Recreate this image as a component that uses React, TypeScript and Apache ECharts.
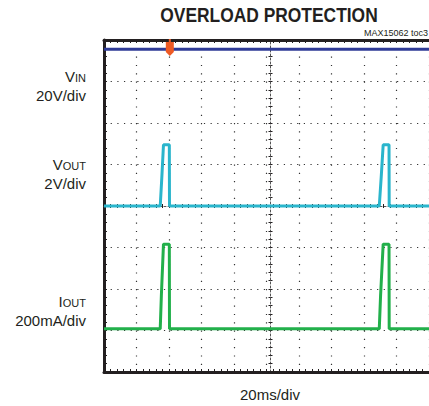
import React, { useEffect, useRef } from "react";
import * as echarts from "echarts";

// ---- data (time in ms, 20 ms/div, 10 div) ----
const TIME_MAX_MS = 200;
const TIME_DIV_MS = 20;
const Y_DIVS = 8;

const VIN_T = [0, 200];
const VIN_V = [23.6, 23.6];
const VIN_SCALE = 20; // V/div
const VIN_OFFSET = 6.6; // div

const VOUT_T = [0, 34.6, 35.6, 36.6, 40.2, 40.3, 169.4, 170.6, 171.8, 175.4, 175.5, 200];
const VOUT_V = [0, 0, 1.4, 2.95, 2.95, 0, 0, 1.4, 2.95, 2.95, 0, 0];
const VOUT_SCALE = 2; // V/div
const VOUT_OFFSET = 4; // div

const IOUT_T = [0, 34.6, 35.3, 36.6, 40.2, 40.3, 169.4, 170.2, 171.8, 175.4, 175.5, 200];
const IOUT_MA = [0, 0, 160, 408, 408, 0, 0, 160, 408, 408, 0, 0];
const IOUT_SCALE = 200; // mA/div
const IOUT_OFFSET = 1.04; // div

const TRIGGER_MS = 40.5;
const TRIGGER_DIV = 7.82;

const TITLE = "OVERLOAD PROTECTION";
const TAG = "MAX15062 toc3";
const X_LABEL = "20ms/div";

const INK = "#231F20";
const C_VIN = "#2E3A96";
const C_VOUT = "#2AB5CC";
const C_IOUT = "#22B04B";
const C_TRIG = "#EE5A24";

const FONT = '"Liberation Sans", Arial, Helvetica, sans-serif';

const toDiv = (ts: number[], vs: number[], scale: number, off: number) =>
  ts.map((t, i) => [t, off + vs[i] / scale]);

export default function App() {
  const ref = useRef<HTMLDivElement>(null);

  useEffect(() => {
    if (!ref.current) return;
    const chart = echarts.init(ref.current, undefined, { renderer: "svg" });

    const baseX = {
      type: "value",
      min: 0,
      max: TIME_MAX_MS,
      interval: TIME_DIV_MS,
      axisLabel: { show: false },
    };
    const baseY = {
      type: "value",
      min: 0,
      max: Y_DIVS,
      interval: 1,
      axisLabel: { show: false },
    };
    const borderLine = { show: true, onZero: false, lineStyle: { color: INK, width: 3 } };
    const centerLine = { show: true, onZero: false, lineStyle: { color: "#555", width: 1, type: [2, 2] } };
    const tick = (inside: boolean, len: number) => ({
      show: true,
      inside,
      length: len,
      lineStyle: { color: INK, width: 1 },
    });
    const minor = (len: number) => ({
      show: true,
      splitNumber: 5,
      length: len,
      lineStyle: { color: INK, width: 1 },
    });

    const option: any = {
      animation: false,
      backgroundColor: "#fff",
      grid: { left: 104, top: 40, width: 333, height: 332 },
      xAxis: [
        {
          ...baseX,
          position: "bottom",
          axisLine: borderLine,
          axisTick: tick(true, 3),
          minorTick: minor(3),
          splitLine: { show: true, lineStyle: { color: "#333", width: 1.2, type: [1.2, 7.1] } },
        },
        {
          ...baseX,
          position: "top",
          axisLine: borderLine,
          axisTick: tick(true, 3),
          minorTick: minor(3),
          splitLine: { show: false },
        },
        {
          ...baseX,
          position: "bottom",
          offset: -166,
          axisLine: centerLine,
          axisTick: tick(true, 2),
          minorTick: minor(2),
          splitLine: { show: false },
        },
        {
          ...baseX,
          position: "bottom",
          offset: -166,
          axisLine: { show: false },
          axisTick: tick(false, 2),
          minorTick: minor(2),
          splitLine: { show: false },
        },
      ],
      yAxis: [
        {
          ...baseY,
          position: "left",
          axisLine: borderLine,
          axisTick: tick(true, 3),
          minorTick: minor(3),
          splitLine: { show: true, lineStyle: { color: "#333", width: 1.2, type: [1.2, 5.46] } },
        },
        {
          ...baseY,
          position: "left",
          offset: -166.5,
          axisLine: centerLine,
          axisTick: tick(true, 2),
          minorTick: minor(2),
          splitLine: { show: false },
        },
        {
          ...baseY,
          position: "left",
          offset: -166.5,
          axisLine: { show: false },
          axisTick: tick(false, 2),
          minorTick: minor(2),
          splitLine: { show: false },
        },
      ],
      series: [
        {
          name: "VIN",
          type: "line",
          xAxisIndex: 0,
          yAxisIndex: 0,
          data: toDiv(VIN_T, VIN_V, VIN_SCALE, VIN_OFFSET),
          showSymbol: false,
          lineStyle: { color: C_VIN, width: 3 },
          z: 3,
          markPoint: {
            silent: true,
            label: { show: false },
            data: [
              {
                coord: [TRIGGER_MS, TRIGGER_DIV],
                symbol: "path://M3,0 H5 V3 H8 V13 L4,17 L0,13 V3 H3 Z",
                symbolSize: [8, 17],
                symbolKeepAspect: false,
                itemStyle: { color: C_TRIG },
              },
            ],
          },
        },
        {
          name: "VOUT",
          type: "line",
          xAxisIndex: 0,
          yAxisIndex: 0,
          data: toDiv(VOUT_T, VOUT_V, VOUT_SCALE, VOUT_OFFSET),
          showSymbol: false,
          lineStyle: { color: C_VOUT, width: 3 },
          z: 3,
        },
        {
          name: "IOUT",
          type: "line",
          xAxisIndex: 0,
          yAxisIndex: 0,
          data: toDiv(IOUT_T, IOUT_MA, IOUT_SCALE, IOUT_OFFSET),
          showSymbol: false,
          lineStyle: { color: C_IOUT, width: 3 },
          z: 3,
        },
      ],
      graphic: [
        {
          type: "text",
          x: 269,
          y: 15,
          scaleX: 0.87,
          style: {
            text: TITLE,
            fontFamily: FONT,
            fontSize: 20,
            fontWeight: "bold",
            fill: INK,
            align: "center",
            verticalAlign: "middle",
          },
        },
        {
          type: "text",
          x: 428,
          y: 33,
          style: { text: TAG, fontFamily: FONT, fontSize: 9, fill: INK, align: "right", verticalAlign: "middle" },
        },
        ...[
          { main: "V", sub: "IN", scale: "20V/div", y: 75 },
          { main: "V", sub: "OUT", scale: "2V/div", y: 163 },
          { main: "I", sub: "OUT", scale: "200mA/div", y: 300 },
        ].flatMap((c) => [
          {
            type: "text",
            x: 86,
            y: c.y,
            style: {
              text: `{m|${c.main}}{s|${c.sub}}`,
              align: "right",
              verticalAlign: "middle",
              fill: INK,
              rich: {
                m: { fontFamily: FONT, fontSize: 15, fill: INK, lineHeight: 17, verticalAlign: "bottom" },
                s: { fontFamily: FONT, fontSize: 11, fill: INK, lineHeight: 14, verticalAlign: "bottom" },
              },
            },
          },
          {
            type: "text",
            x: 86,
            y: c.y + 20,
            style: {
              text: c.scale,
              fontFamily: FONT,
              fontSize: 15,
              fill: INK,
              align: "right",
              verticalAlign: "middle",
            },
          },
        ]),
        {
          type: "text",
          x: 270,
          y: 394,
          style: { text: X_LABEL, fontFamily: FONT, fontSize: 15, fill: INK, align: "center", verticalAlign: "middle" },
        },
      ],
    };

    chart.setOption(option);
    return () => chart.dispose();
  }, []);

  return (
    <div
      ref={ref}
      style={{ position: "fixed", left: 0, top: 0, width: 429, height: 406, background: "#fff" }}
    />
  );
}
